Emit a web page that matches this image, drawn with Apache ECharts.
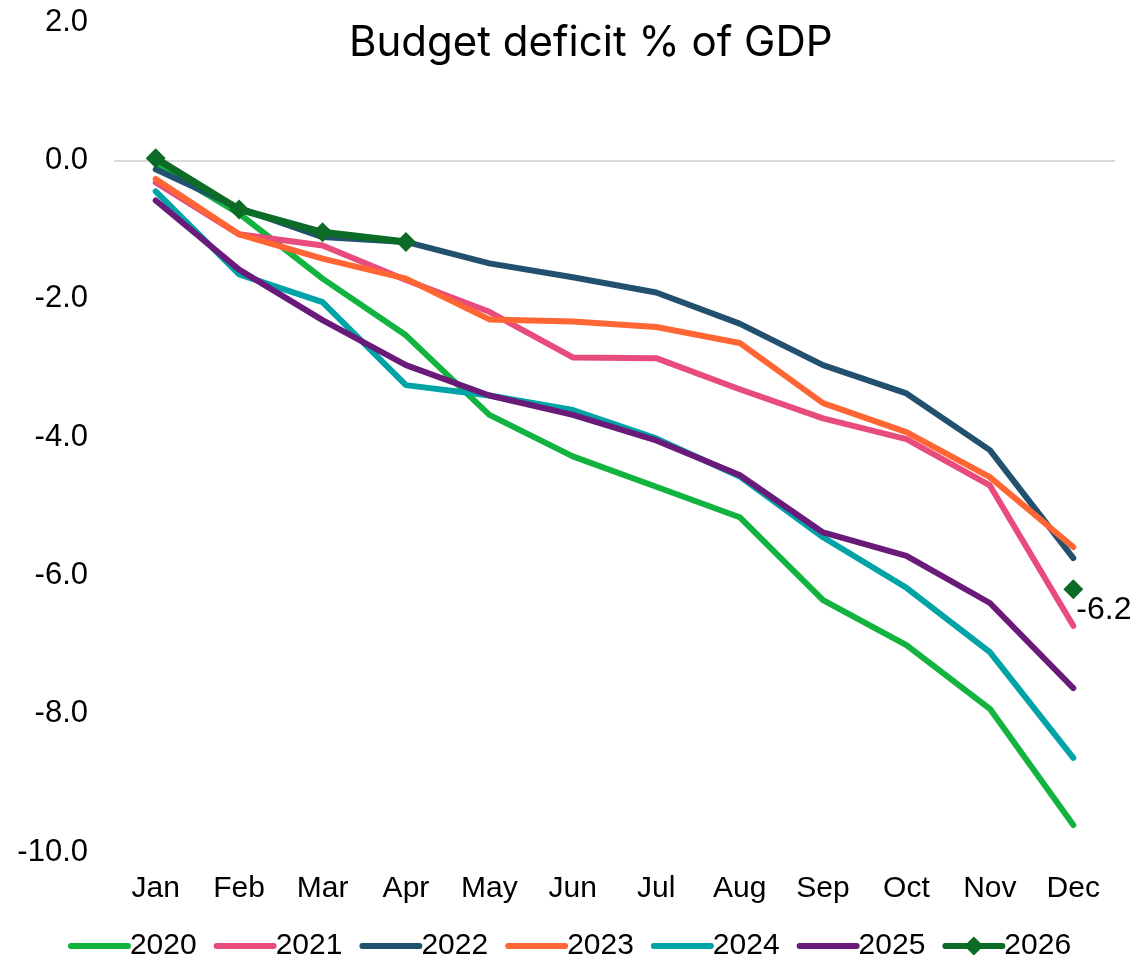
<!DOCTYPE html>
<html>
<head>
<meta charset="utf-8">
<script src="https://cdn.jsdelivr.net/npm/echarts@6/dist/echarts.min.js"></script>
<style>
html,body{margin:0;padding:0;background:#fff;}
#chart{width:1139px;height:964px;}
</style>
</head>
<body>
<div id="chart"></div>
<script>
const months = ['Jan','Feb','Mar','Apr','May','Jun','Jul','Aug','Sep','Oct','Nov','Dec'];
const s2020 = [-0.05,-0.77,-1.71,-2.53,-3.68,-4.28,-4.72,-5.16,-6.36,-7.01,-7.93,-9.61];
const s2021 = [-0.32,-1.07,-1.23,-1.73,-2.19,-2.85,-2.86,-3.31,-3.73,-4.03,-4.70,-6.73];
const s2022 = [-0.13,-0.69,-1.11,-1.18,-1.49,-1.69,-1.91,-2.36,-2.96,-3.37,-4.19,-5.75];
const s2023 = [-0.27,-1.07,-1.42,-1.71,-2.30,-2.33,-2.41,-2.64,-3.51,-3.93,-4.58,-5.59];
const s2024 = [-0.45,-1.65,-2.05,-3.25,-3.40,-3.61,-4.02,-4.57,-5.45,-6.18,-7.11,-8.64];
const s2025 = [-0.58,-1.58,-2.31,-2.96,-3.40,-3.68,-4.05,-4.55,-5.38,-5.72,-6.40,-7.63];
const s2026 = [0.03,-0.71,-1.04,-1.18,null,null,null,null,null,null,null,-6.2];
const yTicks = {min:-10, max:2, interval:2};
const years = ['2020','2021','2022','2023','2024','2025','2026'];

const colors = {
  '2020':'#12B33F','2021':'#E84C7D','2022':'#22506F','2023':'#FF6633',
  '2024':'#00A3A6','2025':'#6A1B7A','2026':'#0B6B27'
};
const FONT = '"Liberation Sans", Arial, sans-serif';

function lineSeries(name, data, extra) {
  return Object.assign({
    name: name,
    type: 'line',
    data: data,
    symbol: 'none',
    smooth: false,
    lineStyle: {width: 6, color: colors[name], cap: 'round', join: 'round'},
    itemStyle: {color: colors[name]},
    emphasis: {disabled: true}
  }, extra || {});
}

const lastIdx = s2026.length - 1;
const d2026 = s2026.map((v, i) => i === lastIdx ? {
  value: v,
  label: {show: true, position: 'right', offset: [-12, 21], formatter: p => p.value.toFixed(1),
          fontFamily: FONT, fontSize: 32, color: '#000'}
} : v);

const chart = echarts.init(document.getElementById('chart'), null, {renderer: 'canvas'});
chart.setOption({
  backgroundColor: '#fff',
  animation: false,
  title: {
    text: 'Budget deficit % of GDP',
    left: 344, top: 17,
    textStyle: {fontFamily: 'Inter, "Open Sans", sans-serif', fontSize: 42, fontWeight: 'normal', color: '#000'}
  },
  legend: {
    bottom: -2,
    left: 'center',
    itemWidth: 57,
    itemHeight: 24,
    itemGap: 17,
    lineStyle: {width: 6, cap: 'round'},
    textStyle: {fontFamily: FONT, fontSize: 30, color: '#000', padding: [0,0,0,-3]},
    data: years.map(y => y === '2026' ? {name: y} : {name: y, itemStyle: {opacity: 0}})
  },
  grid: {left: 114, right: 24, top: 22, bottom: 112, containLabel: false},
  xAxis: {
    type: 'category',
    data: months,
    boundaryGap: true,
    axisLine: {show: false, onZero: false},
    axisTick: {show: false},
    axisLabel: {fontFamily: FONT, fontSize: 30, color: '#000', margin: 22},
    splitLine: {show: false}
  },
  yAxis: {
    type: 'value',
    min: yTicks.min, max: yTicks.max, interval: yTicks.interval,
    axisLine: {show: false},
    axisTick: {show: false},
    axisLabel: {fontFamily: FONT, fontSize: 31, color: '#000', margin: 26,
                formatter: v => v.toFixed(1)},
    splitLine: {show: false}
  },
  series: [
    lineSeries('2020', s2020, {
      markLine: {
        silent: true, symbol: 'none', label: {show: false},
        lineStyle: {color: '#D9D9D9', width: 2, type: 'solid'},
        data: [{yAxis: 0}],
        z: 1
      }
    }),
    lineSeries('2021', s2021),
    lineSeries('2022', s2022),
    lineSeries('2023', s2023),
    lineSeries('2024', s2024),
    lineSeries('2025', s2025),
    lineSeries('2026', d2026, {
      symbol: 'diamond', symbolSize: 20, showSymbol: true, connectNulls: false,
      lineStyle: {width: 7, color: colors['2026'], cap: 'round', join: 'round'}
    })
  ]
});
</script>
</body>
</html>
